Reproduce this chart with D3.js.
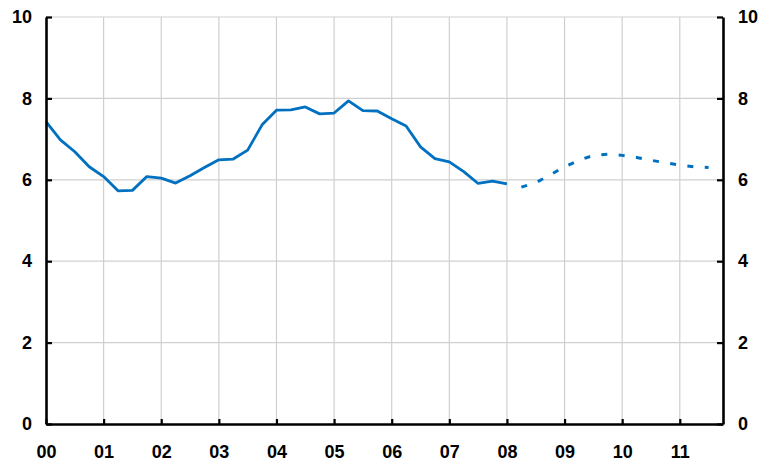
<!DOCTYPE html>
<html>
<head>
<meta charset="utf-8">
<script src="https://cdn.jsdelivr.net/npm/d3@7"></script>
<style>
  body { margin: 0; background: #fff; }
  .axis text { font-family: "Liberation Sans", Arial, sans-serif; font-weight: bold; font-size: 18px; fill: #000; }
</style>
</head>
<body>
<div class="chart"></div>
<script>
// year labels, one per 4 quarters starting 2000Q1
var yearLabels = ["00", "01", "02", "03", "04", "05", "06", "07", "08", "09", "10", "11"];
var yTicks = [0, 2, 4, 6, 8, 10];

// actual, quarterly 2000Q1 - 2008Q1
var actual = [7.43, 6.98, 6.69, 6.32, 6.08, 5.73, 5.74, 6.08, 6.04, 5.92, 6.10, 6.30,
              6.49, 6.51, 6.73, 7.35, 7.71, 7.72, 7.79, 7.62, 7.64, 7.94, 7.70, 7.69,
              7.50, 7.32, 6.81, 6.52, 6.44, 6.20, 5.91, 5.97, 5.90];
// forecast, quarterly 2008Q2 - 2011Q3
var forecastStart = 33;
var forecast = [5.82, 5.93, 6.12, 6.32, 6.48, 6.60, 6.63, 6.60, 6.55, 6.48, 6.42, 6.36, 6.32, 6.30];

var chartWidth = 763;
var chartHeight = 465;
var margin = {top: 17, right: 40, bottom: 41, left: 46};
var nQuarters = yearLabels.length * 4;

var svg = d3.select(".chart")
  .append("svg")
  .attr("width", chartWidth)
  .attr("height", chartHeight);

var x = d3.scaleLinear()
  .domain([0, nQuarters - 1])
  .range([margin.left, chartWidth - margin.right]);

var y = d3.scaleLinear()
  .domain([0, 10])
  .range([chartHeight - margin.bottom, margin.top]);

var yearQ = yearLabels.map(function(d, i) { return i * 4; });

// grid
svg.append("g")
  .selectAll("line")
  .data(yTicks.filter(function(d) { return d > 0; }))
  .enter()
  .append("line")
  .attr("x1", x(0)).attr("x2", x(nQuarters - 1))
  .attr("y1", function(d) { return y(d); })
  .attr("y2", function(d) { return y(d); })
  .attr("stroke", "#cfcfcf")
  .attr("stroke-width", 1.2);

svg.append("g")
  .selectAll("line")
  .data(yearQ.slice(1))
  .enter()
  .append("line")
  .attr("x1", function(d) { return x(d); })
  .attr("x2", function(d) { return x(d); })
  .attr("y1", y(0)).attr("y2", y(10))
  .attr("stroke", "#cfcfcf")
  .attr("stroke-width", 1.2);

// lines
var line = d3.line()
  .x(function(d) { return x(d.q); })
  .y(function(d) { return y(d.v); });

svg.append("path")
  .datum(actual.map(function(v, i) { return {q: i, v: v}; }))
  .attr("d", line)
  .attr("fill", "none")
  .attr("stroke", "#0070c0")
  .attr("stroke-width", 2.8)
  .attr("stroke-linejoin", "round");

svg.append("path")
  .datum(forecast.map(function(v, i) { return {q: forecastStart + i, v: v}; }))
  .attr("d", line)
  .attr("fill", "none")
  .attr("stroke", "#0070c0")
  .attr("stroke-width", 3)
  .attr("stroke-dasharray", "6,11.4");

// axes
var xAxis = d3.axisBottom(x)
  .tickValues(yearQ)
  .tickFormat(function(d, i) { return yearLabels[i]; })
  .tickSizeInner(-5)
  .tickSizeOuter(0)
  .tickPadding(21);

var gx = svg.append("g")
  .attr("class", "axis")
  .attr("transform", "translate(0," + y(0) + ")")
  .call(xAxis);

var gl = svg.append("g")
  .attr("class", "axis")
  .attr("transform", "translate(" + x(0) + ",0)")
  .call(d3.axisLeft(y).tickValues(yTicks).tickSizeInner(-6).tickSizeOuter(0).tickPadding(14));

var gr = svg.append("g")
  .attr("class", "axis")
  .attr("transform", "translate(" + x(nQuarters - 1) + ",0)")
  .call(d3.axisRight(y).tickValues(yTicks).tickSizeInner(-6).tickSizeOuter(0).tickPadding(15));

[gx, gl, gr].forEach(function(g) {
  g.select(".domain").attr("stroke", "#000").attr("stroke-width", 2.6);
  g.selectAll(".tick line").attr("stroke", "#000").attr("stroke-width", 2.2);
});
</script>
</body>
</html>
